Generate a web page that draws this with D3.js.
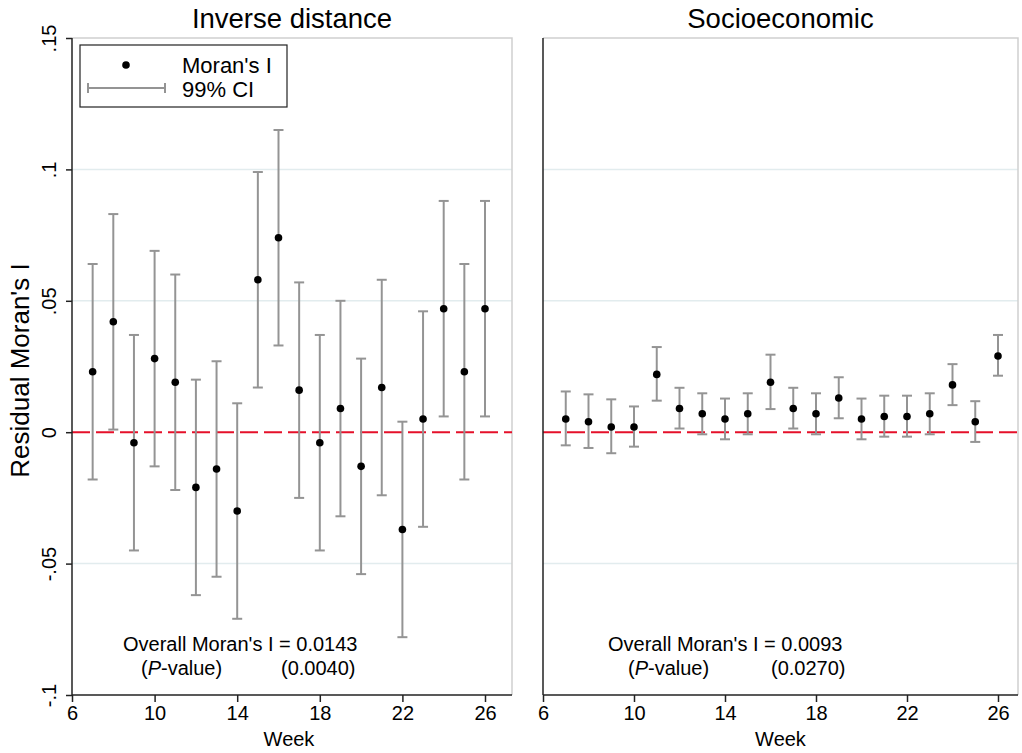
<!DOCTYPE html>
<html>
<head>
<meta charset="utf-8">
<script src="https://cdn.jsdelivr.net/npm/d3@7"></script>
<style>
  body { margin: 0; background: #fff; }
  svg text { font-family: "Liberation Sans", Arial, Helvetica, sans-serif; fill: #000; }
</style>
</head>
<body>
<svg id="chart" width="1022" height="753"></svg>
<script>
"use strict";

var weeks = [7, 8, 9, 10, 11, 12, 13, 14, 15, 16, 17, 18, 19, 20, 21, 22, 23, 24, 25, 26];

// inverse distance panel
var invMoran = [0.023, 0.042, -0.004, 0.028, 0.019, -0.021, -0.014, -0.030, 0.058, 0.074,
                0.016, -0.004, 0.009, -0.013, 0.017, -0.037, 0.005, 0.047, 0.023, 0.047];
var invLow   = [-0.018, 0.001, -0.045, -0.013, -0.022, -0.062, -0.055, -0.071, 0.017, 0.033,
                -0.025, -0.045, -0.032, -0.054, -0.024, -0.078, -0.036, 0.006, -0.018, 0.006];
var invHigh  = [0.064, 0.083, 0.037, 0.069, 0.060, 0.020, 0.027, 0.011, 0.099, 0.115,
                0.057, 0.037, 0.050, 0.028, 0.058, 0.004, 0.046, 0.088, 0.064, 0.088];

// socioeconomic panel
var socMoran = [0.005, 0.004, 0.002, 0.002, 0.022, 0.009, 0.007, 0.005, 0.007, 0.019,
                0.009, 0.007, 0.013, 0.005, 0.006, 0.006, 0.007, 0.018, 0.004, 0.029];
var socLow   = [-0.005, -0.006, -0.008, -0.0055, 0.012, 0.0014, -0.0008, -0.0027, -0.0008, 0.0088,
                0.0014, -0.0008, 0.0053, -0.0027, -0.0017, -0.0017, -0.0008, 0.0103, -0.0037, 0.0215];
var socHigh  = [0.0155, 0.0144, 0.0125, 0.0098, 0.0324, 0.0169, 0.0148, 0.0128, 0.0148, 0.0295,
                0.0169, 0.0148, 0.0209, 0.0128, 0.0139, 0.0139, 0.0148, 0.0259, 0.0118, 0.037];

var yTicks = [-0.1, -0.05, 0, 0.05, 0.1, 0.15];
var yTickLabels = ["-.1", "-.05", "0", ".05", ".1", ".15"];
var gridVals = [-0.05, 0.05, 0.1];
var xTicks = [6, 10, 14, 18, 22, 26];

var panelTitles = ["Inverse distance", "Socioeconomic"];
var overallI = ["0.0143", "0.0093"];
var pValues = ["(0.0040)", "(0.0270)"];

var svg = d3.select('#chart');

var plotTop = 38, plotBottom = 695;
var y = d3.scaleLinear().domain([-0.1, 0.15]).range([plotBottom, plotTop]);

var panels = [
  { left: 72, right: 512, x26: 485, moran: invMoran, lo: invLow, hi: invHigh },
  { left: 543, right: 1018, x26: 998, moran: socMoran, lo: socLow, hi: socHigh }
];

panels.forEach(function(p, i) {
  var x = d3.scaleLinear().domain([6, 26]).range([p.left, p.x26]);
  var g = svg.append('g');

  // grid lines
  g.selectAll('.grid').data(gridVals).enter().append('line')
    .attr('x1', p.left).attr('x2', p.right)
    .attr('y1', function(d){ return y(d); })
    .attr('y2', function(d){ return y(d); })
    .attr('stroke', '#e2ecee').attr('stroke-width', 1.5);

  // light frame top and right
  g.append('path')
    .attr('d', 'M' + p.left + ',' + plotTop + 'H' + p.right + 'V' + plotBottom)
    .attr('fill', 'none').attr('stroke', '#cfcfcf').attr('stroke-width', 1.5);

  // zero reference line
  g.append('line')
    .attr('x1', p.left).attr('x2', p.right)
    .attr('y1', y(0)).attr('y2', y(0))
    .attr('stroke', '#e5102a').attr('stroke-width', 2)
    .attr('stroke-dasharray', '18,6');

  // error bars
  var cap = 5;
  var bars = g.selectAll('.ci').data(weeks).enter().append('g');
  bars.append('line')
    .attr('x1', function(d){ return x(d); }).attr('x2', function(d){ return x(d); })
    .attr('y1', function(d, j){ return y(p.lo[j]); })
    .attr('y2', function(d, j){ return y(p.hi[j]); });
  bars.append('line')
    .attr('x1', function(d){ return x(d) - cap; }).attr('x2', function(d){ return x(d) + cap; })
    .attr('y1', function(d, j){ return y(p.lo[j]); })
    .attr('y2', function(d, j){ return y(p.lo[j]); });
  bars.append('line')
    .attr('x1', function(d){ return x(d) - cap; }).attr('x2', function(d){ return x(d) + cap; })
    .attr('y1', function(d, j){ return y(p.hi[j]); })
    .attr('y2', function(d, j){ return y(p.hi[j]); });
  bars.selectAll('line').attr('stroke', '#949494').attr('stroke-width', 2);

  // points
  g.selectAll('.pt').data(weeks).enter().append('circle')
    .attr('cx', function(d){ return x(d); })
    .attr('cy', function(d, j){ return y(p.moran[j]); })
    .attr('r', 3.8).attr('fill', '#000');

  // x axis
  var xAxis = d3.axisBottom(x).tickValues(xTicks).tickSize(7).tickPadding(4);
  var xa = g.append('g').attr('transform', 'translate(0,' + plotBottom + ')').call(xAxis);
  xa.select('.domain').attr('d', 'M' + p.left + ',0H' + p.right).attr('stroke', '#222').attr('stroke-width', 1.5);
  xa.selectAll('.tick line').attr('stroke', '#222').attr('stroke-width', 1.5);
  xa.selectAll('.tick text').attr('font-size', 20).attr('font-family', '"Liberation Sans", Arial, sans-serif');

  // left axis line
  g.append('line')
    .attr('x1', p.left).attr('x2', p.left).attr('y1', plotTop).attr('y2', plotBottom)
    .attr('stroke', '#222').attr('stroke-width', 1.5);

  // x title
  g.append('text')
    .attr('x', (p.left + p.right) / 2 - 3 + i * 3).attr('y', 746)
    .attr('text-anchor', 'middle').attr('font-size', 20).text('Week');

  // panel title
  g.append('text')
    .attr('x', (p.left + p.right) / 2).attr('y', 28)
    .attr('text-anchor', 'middle').attr('font-size', 27.5).text(panelTitles[i]);

  // annotation
  var ax = p.left + 51 + i * 14;
  g.append('text').attr('x', ax).attr('y', 651).attr('font-size', 20)
    .text("Overall Moran's I = " + overallI[i]);
  var pv = g.append('text').attr('x', ax + 18 + i * 2).attr('y', 675).attr('font-size', 20);
  pv.append('tspan').text('(');
  pv.append('tspan').attr('font-style', 'italic').text('P');
  pv.append('tspan').text('-value)');
  g.append('text').attr('x', ax + 158 + i * 5).attr('y', 675).attr('font-size', 20)
    .text(pValues[i]);
});

// y axis on left panel
var yAxis = d3.axisLeft(y).tickValues(yTicks).tickSize(6).tickFormat(function(d, i){ return yTickLabels[i]; });
var ya = svg.append('g').attr('transform', 'translate(72,0)').call(yAxis);
ya.select('.domain').remove();
ya.selectAll('.tick line').attr('stroke', '#222').attr('stroke-width', 1.5);
ya.selectAll('.tick text')
  .attr('font-size', 20).attr('font-family', '"Liberation Sans", Arial, sans-serif')
  .attr('x', null).attr('dy', null)
  .attr('text-anchor', 'middle')
  .attr('transform', 'translate(-16,0) rotate(-90)');

// y title
svg.append('text')
  .attr('transform', 'translate(29,' + ((plotTop + plotBottom) / 2 + 4) + ') rotate(-90)')
  .attr('text-anchor', 'middle').attr('font-size', 26).text("Residual Moran's I");

// legend
var lg = svg.append('g');
lg.append('rect').attr('x', 80).attr('y', 45).attr('width', 207).attr('height', 62)
  .attr('fill', '#fff').attr('stroke', '#222').attr('stroke-width', 1.2);
lg.append('circle').attr('cx', 126).attr('cy', 65).attr('r', 3.8).attr('fill', '#000');
lg.append('line').attr('x1', 88).attr('x2', 165).attr('y1', 88).attr('y2', 88)
  .attr('stroke', '#949494').attr('stroke-width', 2);
[88, 165].forEach(function(cx) {
  lg.append('line').attr('x1', cx).attr('x2', cx).attr('y1', 83).attr('y2', 93)
    .attr('stroke', '#949494').attr('stroke-width', 2);
});
lg.append('text').attr('x', 182).attr('y', 73).attr('font-size', 22).text("Moran's I");
lg.append('text').attr('x', 182).attr('y', 97).attr('font-size', 22).text("99% CI");
</script>
</body>
</html>
